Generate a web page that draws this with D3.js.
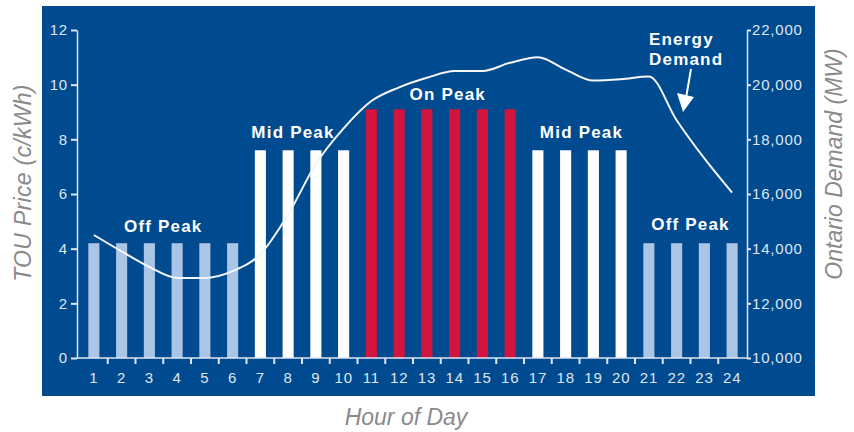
<!DOCTYPE html>
<html>
<head>
<meta charset="utf-8">
<script src="https://cdn.jsdelivr.net/npm/d3@7"></script>
<style>
	body { margin: 0; background: #fff; }
	svg { display: block; font-family: "Liberation Sans", Arial, sans-serif; }
</style>
</head>
<body>
<svg id="chart" width="854" height="432"></svg>
<script>
// hours of the day
const hours = d3.range(1, 25);

// TOU period for each hour
const periods = [
	'off', 'off', 'off', 'off', 'off', 'off',
	'mid', 'mid', 'mid', 'mid',
	'on', 'on', 'on', 'on', 'on', 'on',
	'mid', 'mid', 'mid', 'mid',
	'off', 'off', 'off', 'off'
];

// price per period (c/kWh)
const periodPrices = {off: 4.2, mid: 7.6, on: 9.1};

// Ontario demand (MW) per hour
const demand = [
	14500, 13900, 13330, 12930, 12930, 13180,
	13800, 15250, 17100, 18400, 19400, 19900,
	20250, 20500, 20500, 20800, 21000, 20550,
	20150, 20200, 20300, 18700, 17300, 16050
];

// period labels: [text, first hour, last hour, period]
const periodLabels = [
	['Off Peak', 1, 6, 'off'],
	['Mid Peak', 7, 10, 'mid'],
	['On Peak', 11, 16, 'on'],
	['Mid Peak', 17, 20, 'mid'],
	['Off Peak', 21, 24, 'off']
];

const priceTicks = [0, 2, 4, 6, 8, 10, 12];
const demandTicks = [10000, 12000, 14000, 16000, 18000, 20000, 22000];

const colors = {off: '#abc5e6', mid: '#ffffff', on: '#d2143e'};
const bg = '#004a8f';
const ink = '#dfe6f0';
const grey = '#8a8a8a';

const svg = d3.select('#chart');

// blue panel
svg.append('rect')
	.attr('x', 42)
	.attr('y', 6)
	.attr('width', 773)
	.attr('height', 390)
	.attr('fill', bg);

// scales
let x = d3.scaleBand()
	.domain(hours)
	.range([80, 746])
	.paddingInner(0.6)
	.paddingOuter(0.3);

let yPrice = d3.scaleLinear()
	.domain([0, 12])
	.range([358, 30]);

let yDemand = d3.scaleLinear()
	.domain([10000, 22000])
	.range([358, 30]);

const leftX = 77;
const rightX = 747;

// bars
svg.append('g')
	.selectAll('rect')
	.data(hours)
	.enter()
	.append('rect')
	.attr('x', d => x(d))
	.attr('y', (d, i) => yPrice(periodPrices[periods[i]]))
	.attr('width', x.bandwidth())
	.attr('height', (d, i) => yPrice(0) - yPrice(periodPrices[periods[i]]))
	.attr('fill', (d, i) => colors[periods[i]]);

// left axis
let axisL = svg.append('g')
	.attr('transform', `translate(${leftX},0)`)
	.call(d3.axisLeft(yPrice).tickValues(priceTicks).tickSize(6).tickSizeOuter(0).tickPadding(3));

// right axis
let axisR = svg.append('g')
	.attr('transform', `translate(${rightX},0)`)
	.call(d3.axisRight(yDemand).tickValues(demandTicks).tickFormat(d3.format(',')).tickSize(4).tickSizeOuter(0).tickPadding(1));

// bottom axis
let axisB = svg.append('g')
	.attr('transform', `translate(0,${yPrice(0)})`)
	.call(d3.axisBottom(x).tickSize(0).tickPadding(14));
axisB.select('.domain').remove();

svg.append('line')
	.attr('x1', leftX)
	.attr('x2', rightX)
	.attr('y1', yPrice(0))
	.attr('y2', yPrice(0))
	.attr('stroke', ink)
	.attr('stroke-width', 1.5);

// tick marks between the hours
const gap = x.step() * x.paddingInner() / 2;
svg.append('g')
	.selectAll('line')
	.data(hours.slice(1))
	.enter()
	.append('line')
	.attr('x1', d => x(d) - gap)
	.attr('x2', d => x(d) - gap)
	.attr('y1', yPrice(0))
	.attr('y2', yPrice(0) + 6)
	.attr('stroke', ink)
	.attr('stroke-width', 2);

[axisL, axisR, axisB].forEach(a => {
	a.selectAll('.domain').attr('stroke', ink).attr('stroke-width', 1.5);
	a.selectAll('.tick line').attr('stroke', ink).attr('stroke-width', 2);
	a.selectAll('text')
		.attr('fill', ink)
		.style('font-size', '15px')
		.style('letter-spacing', '0.8px')
		.style('font-family', '"Liberation Sans", Arial, sans-serif');
});

// demand line
let line = d3.line()
	.x((d, i) => x(hours[i]) + x.bandwidth() / 2)
	.y(d => yDemand(d))
	.curve(d3.curveMonotoneX);

svg.append('path')
	.datum(demand)
	.attr('d', line)
	.attr('fill', 'none')
	.attr('stroke', '#f4f6fa')
	.attr('stroke-width', 2);

// period labels
const labelNudge = [0, -9, 7, 2, 0];
const labelRaise = [11, 12, 9, 12, 13];
svg.append('g')
	.selectAll('text')
	.data(periodLabels)
	.enter()
	.append('text')
	.attr('x', (d, i) => (x(d[1]) + x(d[2]) + x.bandwidth()) / 2 + labelNudge[i])
	.attr('y', (d, i) => yPrice(periodPrices[d[3]]) - labelRaise[i])
	.attr('text-anchor', 'middle')
	.attr('fill', '#ffffff')
	.style('font-size', '17px')
	.style('font-weight', 'bold')
	.style('letter-spacing', '1.2px')
	.text(d => d[0]);

// energy demand note and arrow
let note = svg.append('text')
	.attr('x', 649)
	.attr('y', 45)
	.attr('fill', '#ffffff')
	.style('font-size', '17px')
	.style('font-weight', 'bold')
	.style('letter-spacing', '1.2px');
note.append('tspan').attr('x', 649).text('Energy');
note.append('tspan').attr('x', 649).attr('dy', 20).text('Demand');

svg.append('line')
	.attr('x1', 691)
	.attr('y1', 69)
	.attr('x2', 686)
	.attr('y2', 98)
	.attr('stroke', '#ffffff')
	.attr('stroke-width', 2);

svg.append('path')
	.attr('d', 'M677,93 L694,97 L683,112 Z')
	.attr('fill', '#ffffff');

// axis titles
svg.append('text')
	.attr('transform', 'translate(31,183) rotate(-90)')
	.attr('text-anchor', 'middle')
	.attr('fill', grey)
	.style('font-size', '23px')
	.style('font-style', 'italic')
	.style('letter-spacing', '0.3px')
	.text('TOU Price (c/kWh)');

svg.append('text')
	.attr('transform', 'translate(842,164) rotate(-90)')
	.attr('text-anchor', 'middle')
	.attr('fill', grey)
	.style('font-size', '23px')
	.style('font-style', 'italic')
	.text('Ontario Demand (MW)');

svg.append('text')
	.attr('x', 406)
	.attr('y', 425)
	.attr('text-anchor', 'middle')
	.attr('fill', grey)
	.style('font-size', '23px')
	.style('font-style', 'italic')
	.text('Hour of Day');
</script>
</body>
</html>
